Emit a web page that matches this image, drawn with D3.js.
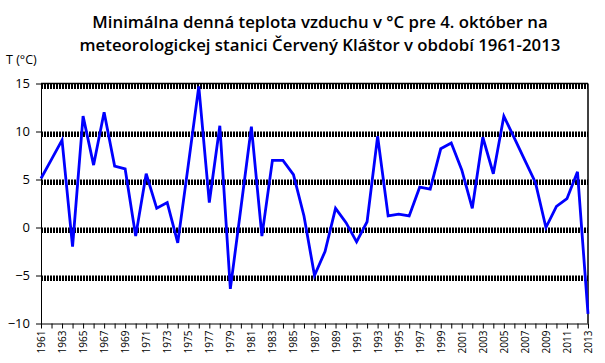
<!DOCTYPE html>
<html><head><meta charset="utf-8">
<script src="https://cdn.jsdelivr.net/npm/d3@7"></script>
<style>body{margin:0;background:#fff}svg{display:block}</style>
</head><body><svg id="c" width="605" height="363"></svg>
<script>
const years = d3.range(1961, 2014);
const temps = [5.1,7.1,9.1,-2.0,11.6,6.5,12.0,6.4,6.1,-0.9,
  5.6,2.0,2.6,-1.6,6.5,14.7,2.6,10.6,-6.4,2.0,
  10.5,-0.9,7.0,7.0,5.5,1.2,-5.0,-2.5,2.0,0.5,
  -1.5,0.6,9.5,1.2,1.4,1.2,4.2,4.0,8.2,8.8,
  6.0,2.0,9.4,5.6,11.6,9.3,7.0,4.7,0.0,2.2,
  3.0,5.8,-9.0];
const yTicks = [-10,-5,0,5,10,15];
const titleLines = ["Minimálna denná teplota vzduchu v °C pre 4. október na",
  "meteorologickej stanici Červený Kláštor v období 1961-2013"];
const yLabel = "T (°C)";

const svg = d3.select("#c");
const L=41, R=588, T=83.5, B=323.5;
const x = d3.scaleLinear().domain([1961,2013]).range([L,R]);
const y = d3.scaleLinear().domain([-10,15]).range([B,T]);

// title
svg.append("g").selectAll("text").data(titleLines).join("text")
  .attr("x",320).attr("y",(d,i)=>28+i*23).attr("text-anchor","middle")
  .attr("font-family","Open Sans, sans-serif").attr("font-weight",600)
  .attr("font-size",16.8).attr("fill","#000").text(d=>d);

svg.append("text").attr("x",6).attr("y",64).attr("font-family","Open Sans, sans-serif")
  .attr("font-size",12.5).text(yLabel);

// gridlines (thick dotted bands)
svg.append("g").selectAll("line").data(yTicks.filter(d=>d>-10)).join("line")
  .attr("x1",L).attr("x2",R).attr("y1",d=>y(d)+2.8).attr("y2",d=>y(d)+2.8)
  .attr("stroke","#000").attr("stroke-width",5.5).attr("stroke-dasharray","2,1");

// border top/right
svg.append("line").attr("x1",L).attr("x2",R).attr("y1",T).attr("y2",T).attr("stroke","#000").attr("stroke-width",1.5);
svg.append("line").attr("x1",R).attr("x2",R).attr("y1",T).attr("y2",B).attr("stroke","#000").attr("stroke-width",1.5);

// y axis
const ya = svg.append("g").attr("transform",`translate(${L},0)`)
  .call(d3.axisLeft(y).tickValues(yTicks).tickSize(5).tickSizeOuter(0).tickFormat(d3.format("d")));
ya.select(".domain").attr("stroke","#000");
ya.selectAll("text").attr("font-family","Open Sans, sans-serif").attr("font-size",13).attr("fill","#000").attr("dx",-3);

// x axis
const xa = svg.append("g").attr("transform",`translate(0,${B})`)
  .call(d3.axisBottom(x).tickValues(years).tickSize(5).tickSizeOuter(0)
    .tickFormat(d=> (d-1961)%2===0 ? String(d) : ""));
xa.select(".domain").attr("stroke","#000");
xa.selectAll("text").attr("font-family","Open Sans, sans-serif").attr("font-size",10).attr("fill","#000")
  .attr("transform","rotate(-90)").attr("text-anchor","end").attr("x",-7).attr("y",0).attr("dy","0.35em");

// line
svg.append("path").datum(years.map((yr,i)=>[yr,temps[i]]))
  .attr("fill","none").attr("stroke","#0000ff").attr("stroke-width",2.8).attr("stroke-linejoin","miter")
  .attr("d",d3.line().x(d=>x(d[0])).y(d=>y(d[1])));
</script></body></html>
